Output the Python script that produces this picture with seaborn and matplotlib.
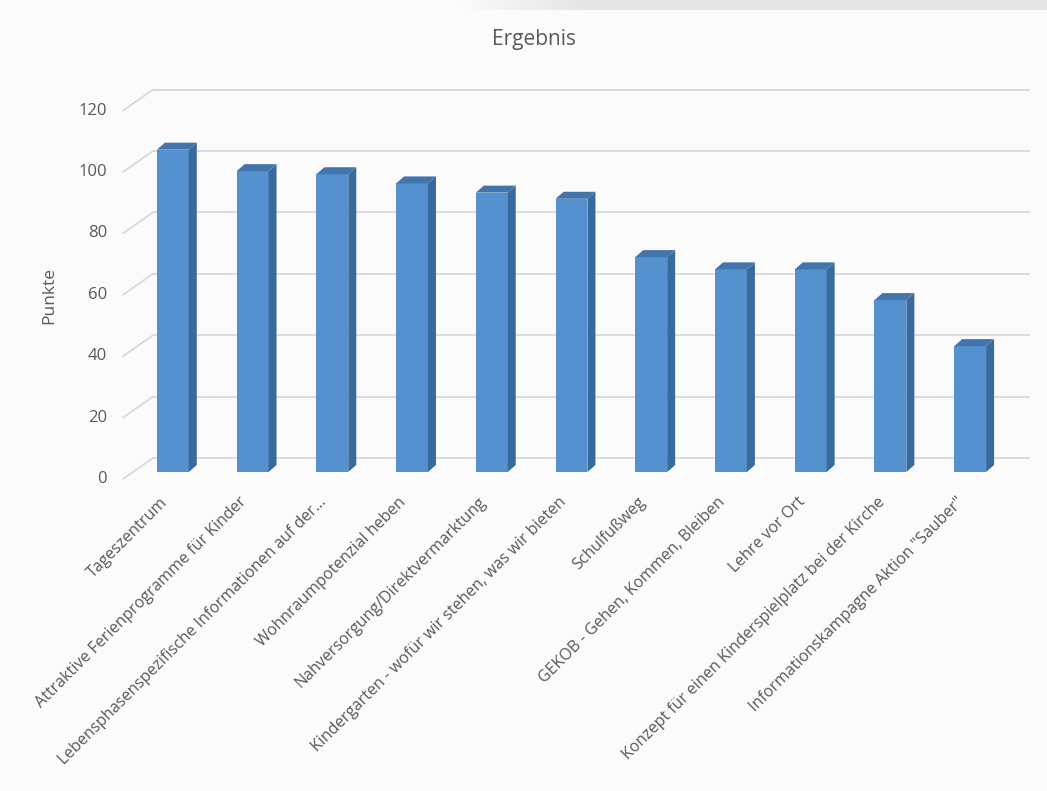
import numpy as np
import pandas as pd
import seaborn as sns
import matplotlib.pyplot as plt
from matplotlib import transforms
from matplotlib.patches import Polygon

# ---- data ----
categories = [
    "Tageszentrum",
    "Attraktive Ferienprogramme für Kinder",
    "Lebensphasenspezifische Informationen auf der...",
    "Wohnraumpotenzial heben",
    "Nahversorgung/Direktvermarktung",
    "Kindergarten - wofür wir stehen, was wir bieten",
    "Schulfußweg",
    "GEKOB - Gehen, Kommen, Bleiben",
    "Lehre vor Ort",
    "Konzept für einen Kinderspielplatz bei der Kirche",
    "Informationskampagne Aktion \"Sauber\"",
]
values = [105, 98, 97, 94, 91, 89, 70, 66, 66, 56, 41]
y_ticks = [0, 20, 40, 60, 80, 100, 120]
title_text = "Ergebnis"
y_label = "Punkte"

# ---- style ----
FRONT = "#5591cf"
SIDE = "#396a9c"
TOP = "#4275ab"
GRID = "#d9d9d9"
TEXT = "#595959"
BG = "#fbfbfb"

sns.set_theme(style="white")
plt.rcParams["font.family"] = ["Open Sans", "DejaVu Sans"]

W, H = 1047, 791
fig = plt.figure(figsize=(W / 100, H / 100), dpi=100, facecolor=BG)

# top grey band
band = fig.add_axes([0, 1 - 10 / H, 1, 10 / H])
grad = np.clip((np.linspace(0, 1, 400) - 0.44) / 0.12, 0, 1)
rgba = np.zeros((1, 400, 4))
rgba[..., :3] = 0.9
rgba[..., 3] = grad
band.imshow(rgba, aspect="auto", extent=[0, 1, 0, 1])
band.axis("off")

ax = fig.add_axes([133 / W, (H - 472) / H, 877 / W, 368.4 / H])
ax.set_facecolor("none")

df = pd.DataFrame({"Kategorie": categories, "Punkte": values})
sns.barplot(data=df, x="Kategorie", y="Punkte", order=categories, color=FRONT,
            saturation=1, width=0.40, linewidth=0, ax=ax, zorder=3)
ax.set_xlim(-0.5, len(categories) - 0.5)
ax.set_ylim(0, 120)

# pixel -> data units
o = ax.transData.transform((0, 0))
ux = ax.transData.transform((1, 0))[0] - o[0]
uy = ax.transData.transform((0, 1))[1] - o[1]

# 3D faces of the bars
ddx, ddy = 8 / ux, 7 / uy
for p in list(ax.patches):
    x0, w, h = p.get_x(), p.get_width(), p.get_height()
    side = Polygon([(x0 + w, 0), (x0 + w + ddx, ddy), (x0 + w + ddx, h + ddy), (x0 + w, h)],
                   closed=True, facecolor=SIDE, edgecolor="none", zorder=3)
    top = Polygon([(x0, h), (x0 + w, h), (x0 + w + ddx, h + ddy), (x0 + ddx, h + ddy)],
                  closed=True, facecolor=TOP, edgecolor="none", zorder=3)
    ax.add_patch(side)
    ax.add_patch(top)

# back wall gridlines + side wall diagonals
gx, gy = 20 / ux, 14 / uy
fx, fy = 10 / ux, 7 / uy
x_left, x_right = ax.get_xlim()
for v in y_ticks:
    ax.plot([x_left + gx, x_right + gx], [v + gy, v + gy], color=GRID, lw=1.3,
            zorder=1, clip_on=False, solid_capstyle="butt")
    ax.plot([x_left - fx, x_left + gx], [v - fy, v + gy], color=GRID, lw=1.3,
            zorder=1, clip_on=False)

for s in ax.spines.values():
    s.set_visible(False)
ax.grid(False)

# y ticks
ax.set_yticks(y_ticks)
ax.tick_params(axis="y", length=0, pad=26 * 0.72, labelsize=12, labelcolor=TEXT)
for lbl in ax.get_yticklabels():
    lbl.set_transform(lbl.get_transform() +
                      transforms.ScaledTranslation(0, -5 / 100, fig.dpi_scale_trans))

# x ticks
ax.tick_params(axis="x", length=0, pad=20, labelsize=11.5, labelcolor=TEXT)
ax.set_xticks(range(len(categories)))
ax.set_xticklabels(categories, rotation=45, ha="right", va="center",
                   rotation_mode="anchor")
for lbl in ax.get_xticklabels():
    lbl.set_transform(lbl.get_transform() +
                      transforms.ScaledTranslation(-8 / 100, 0, fig.dpi_scale_trans))

ax.set_xlabel("")
ax.set_ylabel(y_label, fontsize=12.5, color=TEXT)
ax.yaxis.set_label_coords((57 - 133) / 877, (472 - 295) / 368.4)

fig.text(534 / W, 1 - 45 / H, title_text, ha="center", va="baseline",
         fontsize=15, color=TEXT)

fig.savefig("out.png", dpi=100, facecolor=BG)
